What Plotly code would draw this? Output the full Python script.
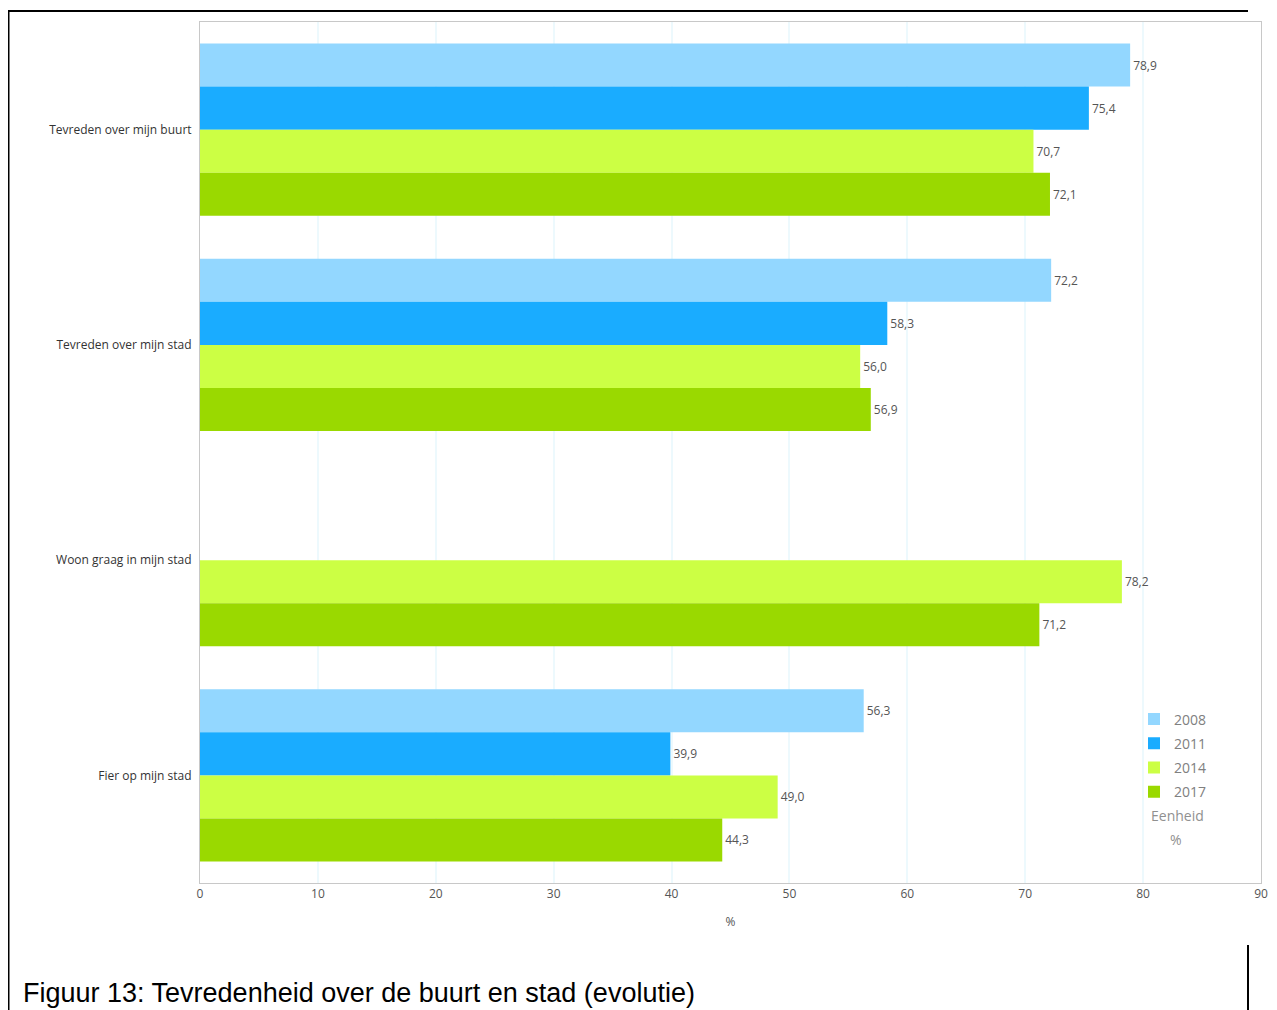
import plotly.graph_objects as go

categories = ["Tevreden over mijn buurt", "Tevreden over mijn stad", "Woon graag in mijn stad", "Fier op mijn stad"]
years = ["2008", "2011", "2014", "2017"]
v2008 = [78.9, 72.2, None, 56.3]
v2011 = [75.4, 58.3, None, 39.9]
v2014 = [70.7, 56.0, 78.2, 49.0]
v2017 = [72.1, 56.9, 71.2, 44.3]
series = [v2008, v2011, v2014, v2017]
colors = ["#93d7ff", "#1aacff", "#ccff44", "#9ad900"]
x_ticks = [0, 10, 20, 30, 40, 50, 60, 70, 80, 90]

W, H = 1269, 1002
L, R, T, B = 192, 16, 14, 127
PW, PH = W - L - R, H - T - B


def px(fx):
    return (fx - L) / PW


def py(fy):
    return 1 - (fy - T) / PH


def fmt(v):
    return "" if v is None else f"{v:.1f}".replace(".", ",")


fig = go.Figure()
for yr, vals, col in zip(years, series, colors):
    fig.add_trace(go.Bar(
        y=categories, x=vals, name=yr, orientation="h", legendgroup=yr,
        marker=dict(color=col, line=dict(width=0)),
        text=[fmt(v) for v in vals], textposition="outside",
        textfont=dict(family="Open Sans", size=12, color="#555555"),
        cliponaxis=False,
    ))

fig.update_layout(
    width=W, height=H,
    margin=dict(l=L, r=R, t=T, b=B, autoexpand=False),
    paper_bgcolor="white", plot_bgcolor="white",
    barmode="group", bargap=0.2, bargroupgap=0,
    font=dict(family="Open Sans", size=12, color="#444444"),
    showlegend=True,
    legend=dict(x=px(1126), y=py(695.5), xanchor="left", yanchor="top",
                font=dict(size=14, color="#808080"), bgcolor="rgba(0,0,0,0)",
                traceorder="grouped", itemwidth=30, tracegroupgap=3),
    xaxis=dict(range=[0, 90], tickvals=x_ticks, showgrid=True, gridcolor="#edf9fd", gridwidth=1.5,
               zeroline=False, showline=True, linecolor="#c8c8c8", linewidth=1, mirror=True,
               ticks="", tickfont=dict(size=12, color="#555555"), automargin=False,
               title=dict(text="%", font=dict(size=12, color="#555555"), standoff=16)),
    yaxis=dict(autorange="reversed", showgrid=False, showline=True, linecolor="#c8c8c8",
               linewidth=1, mirror=True, ticks="", ticklabelstandoff=5, automargin=False,
               tickfont=dict(size=12, color="#333333")),
)

fig.add_annotation(text="Eenheid", x=px(1169), y=py(807), xref="paper", yref="paper",
                   showarrow=False, font=dict(size=14, color="#909090"), xanchor="center", yanchor="middle")
fig.add_annotation(text="%", x=px(1168), y=py(831), xref="paper", yref="paper",
                   showarrow=False, font=dict(size=14, color="#909090"), xanchor="center", yanchor="middle")

# caption
fig.add_annotation(text="Figuur 13: Tevredenheid over de buurt en stad (evolutie)",
                   x=px(13), y=py(985), xref="paper", yref="paper", showarrow=False,
                   font=dict(family="Liberation Sans", size=27, color="#000000"),
                   xanchor="left", yanchor="middle")

# page frame lines
frame = dict(color="#000000", width=2)
fig.add_shape(type="line", xref="paper", yref="paper", x0=px(0.5), x1=px(0.5), y0=py(2), y1=py(H), line=frame)
fig.add_shape(type="line", xref="paper", yref="paper", x0=px(0), x1=px(1240), y0=py(3), y1=py(3), line=frame)
fig.add_shape(type="line", xref="paper", yref="paper", x0=px(1240), x1=px(1240), y0=py(937), y1=py(H), line=frame)

fig.write_html("out.html")
